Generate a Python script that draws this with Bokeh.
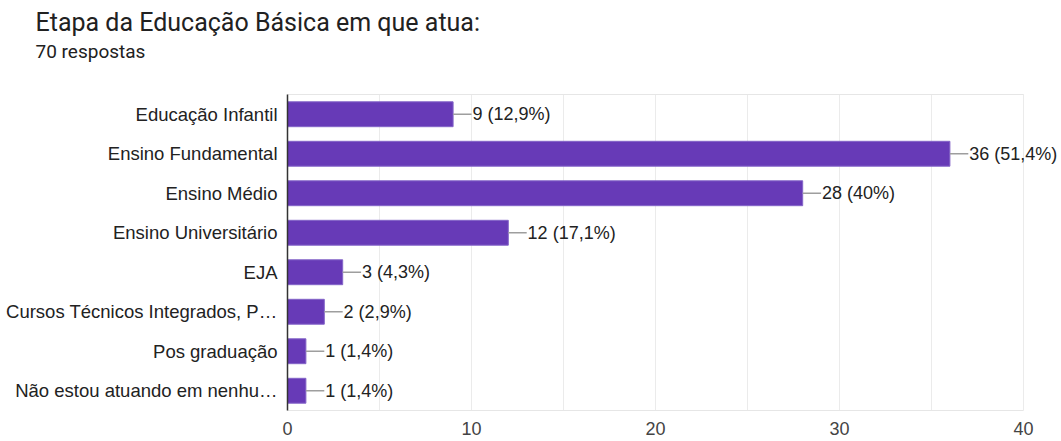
from bokeh.plotting import figure
from bokeh.models import (ColumnDataSource, Range1d, SingleIntervalTicker,
                          FixedTicker, Title, LabelSet)
from bokeh.core.properties import value
from bokeh.embed import file_html
from bokeh.resources import INLINE

title_text = "Etapa da Educação Básica em que atua:"
subtitle_text = "70 respostas"
categories = [
    "Educação Infantil",
    "Ensino Fundamental",
    "Ensino Médio",
    "Ensino Universitário",
    "EJA",
    "Cursos Técnicos Integrados, P…",
    "Pos graduação",
    "Não estou atuando em nenhu…",
]
counts = [9, 36, 28, 12, 3, 2, 1, 1]
percents = ["12,9", "51,4", "40", "17,1", "4,3", "2,9", "1,4", "1,4"]
x_ticks_interval = 10
x_max = 40

n = len(categories)
ypos = [n - 1 - i for i in range(n)]          # first category on top
labels = [f"{c} ({p}%)" for c, p in zip(counts, percents)]
lead = 1.0
src = ColumnDataSource(dict(
    y=ypos,
    val=counts,
    lead_end=[c + lead for c in counts],
    txt_x=[c + lead + 0.05 for c in counts],
    lab=labels,
))

CHART_FONT = "Liberation Sans"
FIG_W, FIG_H = 1060, 440
LEFT, TOP, BOTTOM = 287, 63, 30
FRAME_W = FIG_W - LEFT
FRAME_H = FIG_H - TOP - BOTTOM
PX_PER_UNIT = 18.4             # x scale
ROW_PX = 39.5                  # y scale (one category row)
x_end = FRAME_W / PX_PER_UNIT
y_lo = -0.5
y_hi = y_lo + FRAME_H / ROW_PX
bars_hi = n - 0.5

p = figure(
    frame_width=FRAME_W, frame_height=FRAME_H,
    x_range=Range1d(0, x_end), y_range=Range1d(y_lo, y_hi),
    output_backend="svg", toolbar_location=None,
    min_border_left=LEFT, min_border_right=0, min_border_top=TOP, min_border_bottom=BOTTOM,
    title=None,
)

sub = Title(text=subtitle_text, text_font="Roboto", text_font_size="19px",
            text_color="#212121", text_font_style="normal", offset=35 - LEFT, standoff=2)
main = Title(text=title_text, text_font="Roboto", text_font_size="25px",
             text_color="#212121", text_font_style="normal", offset=35 - LEFT, standoff=0)
p.add_layout(sub, "above")
p.add_layout(main, "above")

p.hbar(y="y", left=0, right="val", height=0.63, source=src,
       fill_color="#673ab7", line_color="#8465c8", line_width=1)
p.segment(x0="val", x1="lead_end", y0="y", y1="y", source=src,
          line_color="#9e9e9e", line_width=1.5)
p.add_layout(LabelSet(x="txt_x", y="y", text="lab", source=src, text_baseline="middle",
                      text_align="left", text_font=value(CHART_FONT), text_font_size="18px",
                      text_color="#222222", level="overlay"))

# x axis
p.xaxis.ticker = SingleIntervalTicker(interval=x_ticks_interval, num_minor_ticks=2)
p.xaxis.bounds = (0, x_max)
p.xaxis.axis_line_color = "#e6e6e6"
p.xaxis.major_tick_line_color = None
p.xaxis.minor_tick_line_color = None
p.xaxis.major_label_text_font = CHART_FONT
p.xaxis.major_label_text_font_size = "18px"
p.xaxis.major_label_text_color = "#444444"
p.xaxis.major_label_standoff = 5

# y axis (category names)
p.yaxis.ticker = FixedTicker(ticks=ypos)
p.yaxis.major_label_overrides = {y: c for y, c in zip(ypos, categories)}
p.yaxis.bounds = (y_lo, bars_hi)
p.yaxis.axis_line_color = "#333333"
p.yaxis.axis_line_width = 1.5
p.yaxis.major_tick_line_color = None
p.yaxis.minor_tick_line_color = None
p.yaxis.major_label_text_font = CHART_FONT
p.yaxis.major_label_text_font_size = "18.5px"
p.yaxis.major_label_text_color = "#222222"
p.yaxis.major_label_standoff = 4

# grid: vertical lines over the bar area only, plus top border line
p.xgrid.grid_line_color = "#ebebeb"
p.xgrid.minor_grid_line_color = "#ebebeb"
p.xgrid.cross_bounds = (y_lo, bars_hi)
p.ygrid.ticker = FixedTicker(ticks=[bars_hi])
p.ygrid.grid_line_color = "#e6e6e6"
p.ygrid.cross_bounds = (0, x_max)

p.outline_line_color = None
p.background_fill_color = "white"
p.border_fill_color = "white"

open("out.html", "w").write(file_html(p, INLINE))
